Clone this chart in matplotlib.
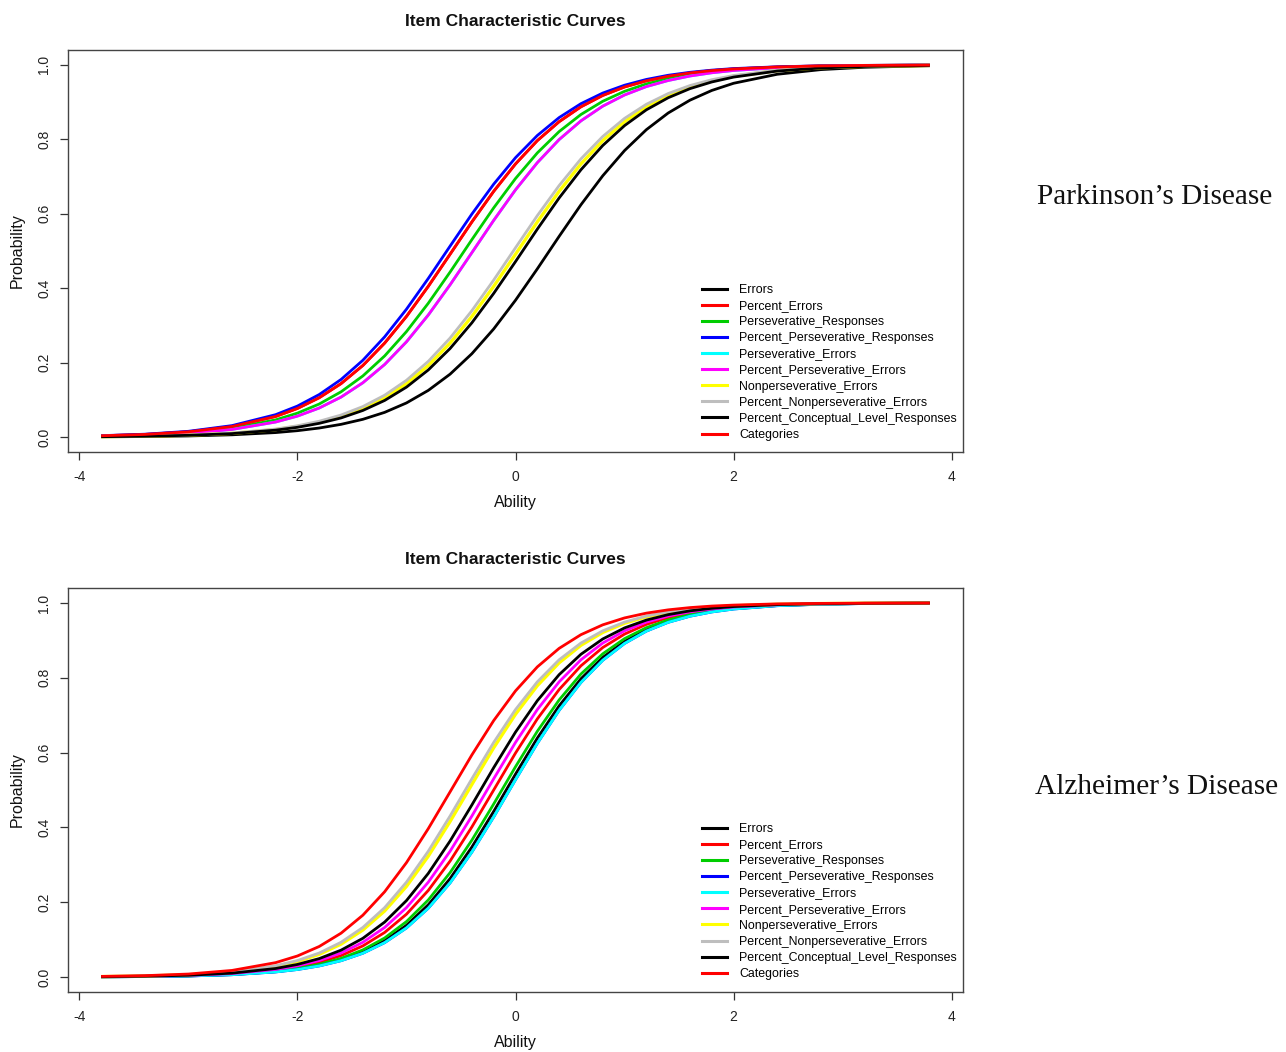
import matplotlib
matplotlib.use("Agg")
import matplotlib.pyplot as plt
from matplotlib.lines import Line2D

plt.rcParams['font.family'] = ['Liberation Sans', 'DejaVu Sans']

# Ability grid (x values shared by all curves)
theta = [-3.8, -3.4, -3.0, -2.6, -2.2, -2.0, -1.8, -1.6, -1.4, -1.2, -1.0, -0.8, -0.6, -0.4, -0.2,
         0.0, 0.2, 0.4, 0.6, 0.8, 1.0, 1.2, 1.4, 1.6, 1.8, 2.0, 2.4, 2.8, 3.2, 3.8]

item_labels = ["Errors", "Percent_Errors", "Perseverative_Responses",
               "Percent_Perseverative_Responses", "Perseverative_Errors",
               "Percent_Perseverative_Errors", "Nonperseverative_Errors",
               "Percent_Nonperseverative_Errors", "Percent_Conceptual_Level_Responses",
               "Categories"]
item_colors = ["#000000", "#FF0000", "#00CD00", "#0000FF", "#00FFFF",
               "#FF00FF", "#FFFF00", "#BEBEBE", "#000000", "#FF0000"]

# ---- Parkinson's Disease: probability per ability point
pd_errors = [0.0008, 0.0015, 0.0031, 0.0062, 0.0122, 0.0173, 0.0244, 0.0343, 0.0478, 0.0665, 0.0918, 0.1255, 0.1691, 0.2241, 0.2906,
             0.3677, 0.4520, 0.5393, 0.6242, 0.7020, 0.7698, 0.8259, 0.8707, 0.9052, 0.9313, 0.9506, 0.9748, 0.9873, 0.9936, 0.9977]
pd_percent_errors = [0.0036, 0.0072, 0.0143, 0.0285, 0.0555, 0.0770, 0.1058, 0.1437, 0.1924, 0.2526, 0.3242, 0.4050, 0.4913, 0.5781, 0.6603,
                     0.7339, 0.7965, 0.8474, 0.8874, 0.9179, 0.9407, 0.9573, 0.9695, 0.9784, 0.9847, 0.9891, 0.9944, 0.9973, 0.9986, 0.9995]
pd_persev_resp = [0.0030, 0.0060, 0.0118, 0.0236, 0.0463, 0.0644, 0.0889, 0.1217, 0.1643, 0.2181, 0.2835, 0.3596, 0.4434, 0.5306, 0.6159,
                  0.6947, 0.7635, 0.8208, 0.8667, 0.9022, 0.9290, 0.9489, 0.9633, 0.9739, 0.9815, 0.9869, 0.9934, 0.9966, 0.9984, 0.9994]
pd_pct_persev_resp = [0.0039, 0.0078, 0.0156, 0.0309, 0.0603, 0.0834, 0.1144, 0.1548, 0.2064, 0.2694, 0.3436, 0.4262, 0.5131, 0.5993, 0.6796,
                      0.7507, 0.8103, 0.8584, 0.8958, 0.9243, 0.9454, 0.9609, 0.9721, 0.9801, 0.9859, 0.9901, 0.9949, 0.9975, 0.9987, 0.9996]
pd_persev_err = [0.0026, 0.0053, 0.0103, 0.0206, 0.0405, 0.0564, 0.0782, 0.1075, 0.1460, 0.1951, 0.2560, 0.3280, 0.4092, 0.4956, 0.5823,
                 0.6643, 0.7373, 0.7993, 0.8496, 0.8891, 0.9192, 0.9417, 0.9580, 0.9701, 0.9788, 0.9850, 0.9925, 0.9962, 0.9981, 0.9993]
pd_pct_persev_err = [0.0026, 0.0053, 0.0103, 0.0206, 0.0405, 0.0564, 0.0782, 0.1075, 0.1460, 0.1951, 0.2560, 0.3280, 0.4092, 0.4956, 0.5823,
                     0.6643, 0.7373, 0.7993, 0.8496, 0.8891, 0.9192, 0.9417, 0.9580, 0.9701, 0.9788, 0.9850, 0.9925, 0.9962, 0.9981, 0.9993]
pd_nonpersev_err = [0.0013, 0.0025, 0.0052, 0.0101, 0.0202, 0.0285, 0.0398, 0.0555, 0.0770, 0.1058, 0.1437, 0.1924, 0.2526, 0.3242, 0.4050,
                    0.4913, 0.5781, 0.6603, 0.7339, 0.7965, 0.8474, 0.8874, 0.9179, 0.9407, 0.9573, 0.9695, 0.9847, 0.9923, 0.9961, 0.9986]
pd_pct_nonpersev_err = [0.0014, 0.0027, 0.0056, 0.0109, 0.0216, 0.0305, 0.0427, 0.0593, 0.0821, 0.1126, 0.1526, 0.2035, 0.2661, 0.3397, 0.4219,
                        0.5087, 0.5950, 0.6758, 0.7474, 0.8076, 0.8563, 0.8942, 0.9230, 0.9445, 0.9602, 0.9715, 0.9857, 0.9928, 0.9964, 0.9987]
pd_pclr = [0.0012, 0.0023, 0.0048, 0.0094, 0.0187, 0.0263, 0.0370, 0.0515, 0.0716, 0.0985, 0.1343, 0.1804, 0.2380, 0.3071, 0.3861,
           0.4715, 0.5587, 0.6424, 0.7182, 0.7834, 0.8369, 0.8793, 0.9117, 0.9362, 0.9541, 0.9672, 0.9834, 0.9917, 0.9959, 0.9985]
pd_categories = [0.0036, 0.0072, 0.0143, 0.0285, 0.0555, 0.0770, 0.1058, 0.1437, 0.1924, 0.2526, 0.3242, 0.4050, 0.4913, 0.5781, 0.6603,
                 0.7339, 0.7965, 0.8474, 0.8874, 0.9179, 0.9407, 0.9573, 0.9695, 0.9784, 0.9847, 0.9891, 0.9944, 0.9973, 0.9986, 0.9995]

# ---- Alzheimer's Disease
ad_errors = [0.0006, 0.0013, 0.0030, 0.0065, 0.0144, 0.0213, 0.0314, 0.0462, 0.0673, 0.0972, 0.1383, 0.1932, 0.2632, 0.3476, 0.4428,
             0.5424, 0.6387, 0.7250, 0.7973, 0.8544, 0.8974, 0.9288, 0.9512, 0.9667, 0.9774, 0.9848, 0.9931, 0.9968, 0.9986, 0.9996]
ad_percent_errors = [0.0008, 0.0017, 0.0037, 0.0082, 0.0180, 0.0266, 0.0392, 0.0573, 0.0832, 0.1192, 0.1680, 0.2315, 0.3100, 0.4013, 0.5000,
                     0.5987, 0.6900, 0.7685, 0.8320, 0.8808, 0.9168, 0.9427, 0.9608, 0.9734, 0.9820, 0.9879, 0.9944, 0.9975, 0.9989, 0.9997]
ad_persev_resp = [0.0007, 0.0014, 0.0033, 0.0071, 0.0156, 0.0231, 0.0340, 0.0498, 0.0725, 0.1044, 0.1482, 0.2060, 0.2790, 0.3659, 0.4626,
                  0.5621, 0.6569, 0.7407, 0.8099, 0.8640, 0.9046, 0.9339, 0.9546, 0.9691, 0.9791, 0.9859, 0.9936, 0.9971, 0.9987, 0.9996]
ad_pct_persev_resp = [0.0006, 0.0013, 0.0028, 0.0062, 0.0136, 0.0201, 0.0297, 0.0437, 0.0636, 0.0920, 0.1313, 0.1840, 0.2517, 0.3341, 0.4280,
                      0.5275, 0.6248, 0.7130, 0.7875, 0.8468, 0.8918, 0.9248, 0.9483, 0.9646, 0.9760, 0.9838, 0.9927, 0.9966, 0.9985, 0.9995]
ad_persev_err = [0.0006, 0.0013, 0.0028, 0.0062, 0.0136, 0.0201, 0.0297, 0.0437, 0.0636, 0.0920, 0.1313, 0.1840, 0.2517, 0.3341, 0.4280,
                 0.5275, 0.6248, 0.7130, 0.7875, 0.8468, 0.8918, 0.9248, 0.9483, 0.9646, 0.9760, 0.9838, 0.9927, 0.9966, 0.9985, 0.9995]
ad_pct_persev_err = [0.0009, 0.0019, 0.0042, 0.0092, 0.0203, 0.0300, 0.0441, 0.0642, 0.0929, 0.1325, 0.1855, 0.2536, 0.3363, 0.4305, 0.5300,
                     0.6271, 0.7150, 0.7891, 0.8481, 0.8928, 0.9255, 0.9488, 0.9650, 0.9762, 0.9839, 0.9892, 0.9950, 0.9978, 0.9990, 0.9997]
ad_nonpersev_err = [0.0012, 0.0027, 0.0060, 0.0129, 0.0283, 0.0417, 0.0607, 0.0880, 0.1257, 0.1767, 0.2424, 0.3231, 0.4159, 0.5150, 0.6130,
                    0.7026, 0.7789, 0.8401, 0.8869, 0.9212, 0.9458, 0.9629, 0.9748, 0.9830, 0.9885, 0.9923, 0.9964, 0.9984, 0.9993, 0.9998]
ad_pct_nonpersev_err = [0.0013, 0.0029, 0.0063, 0.0137, 0.0300, 0.0441, 0.0642, 0.0929, 0.1325, 0.1855, 0.2536, 0.3363, 0.4305, 0.5300, 0.6271,
                        0.7150, 0.7891, 0.8481, 0.8928, 0.9255, 0.9488, 0.9650, 0.9762, 0.9839, 0.9892, 0.9927, 0.9966, 0.9985, 0.9993, 0.9998]
ad_pclr = [0.0010, 0.0022, 0.0048, 0.0104, 0.0228, 0.0337, 0.0493, 0.0718, 0.1035, 0.1469, 0.2044, 0.2770, 0.3636, 0.4601, 0.5597,
           0.6547, 0.7387, 0.8083, 0.8628, 0.9037, 0.9333, 0.9542, 0.9688, 0.9789, 0.9858, 0.9904, 0.9956, 0.9980, 0.9991, 0.9997]
ad_categories = [0.0017, 0.0037, 0.0080, 0.0177, 0.0385, 0.0563, 0.0817, 0.1172, 0.1653, 0.2280, 0.3058, 0.3966, 0.4950, 0.5938, 0.6856,
                 0.7649, 0.8291, 0.8786, 0.9152, 0.9415, 0.9600, 0.9728, 0.9816, 0.9876, 0.9917, 0.9943, 0.9975, 0.9988, 0.9995, 0.9998]

pd_curves = [pd_errors, pd_percent_errors, pd_persev_resp, pd_pct_persev_resp, pd_persev_err,
             pd_pct_persev_err, pd_nonpersev_err, pd_pct_nonpersev_err, pd_pclr, pd_categories]
ad_curves = [ad_errors, ad_percent_errors, ad_persev_resp, ad_pct_persev_resp, ad_persev_err,
             ad_pct_persev_err, ad_nonpersev_err, ad_pct_nonpersev_err, ad_pclr, ad_categories]

W, H = 1286, 1052
fig = plt.figure(figsize=(W / 100, H / 100), dpi=100)

def make_axes(top_px, bottom_px):
    left, right = 68, 963
    return fig.add_axes([left / W, 1 - bottom_px / H, (right - left) / W, (bottom_px - top_px) / H])

panels = [
    (make_axes(50, 452), pd_curves),
    (make_axes(588, 992), ad_curves),
]

for ax, curves in panels:
    for vals, col in zip(curves, item_colors):
        lw = 2.4 if col == "#FFFF00" else 2.0
        ax.plot(theta, vals, color=col, lw=lw, solid_capstyle='butt', solid_joinstyle='round')
    ax.set_xlim(-4.104, 4.104)
    ax.set_ylim(-0.04, 1.04)
    ax.set_xticks([-4, -2, 0, 2, 4])
    ax.set_xticklabels(["-4", "-2", "0", "2", "4"])
    ax.set_yticks([0.0, 0.2, 0.4, 0.6, 0.8, 1.0])
    ax.set_yticklabels(["0.0", "0.2", "0.4", "0.6", "0.8", "1.0"])
    for lab in ax.get_yticklabels():
        lab.set_rotation(90)
        lab.set_va('center')
    ax.tick_params(direction='out', length=6, width=0.9, color='#333333',
                   labelsize=10, labelcolor='#222222')
    ax.tick_params(axis='x', pad=7)
    ax.tick_params(axis='y', pad=6)
    for s in ax.spines.values():
        s.set_color('#444444')
        s.set_linewidth(1.0)
    h = ax.get_position().height * H
    ax.text(0.5, 1 + 29 / h, "Item Characteristic Curves", transform=ax.transAxes,
            ha='center', va='center', fontsize=12.5, fontweight='bold', color='#111111')
    ax.set_xlabel("Ability", fontsize=11.5, color='#111111')
    ax.xaxis.set_label_coords(0.5, -50 / h)
    ax.xaxis.label.set_va('center')
    ax.set_ylabel("Probability", fontsize=11.5, color='#111111')
    ax.yaxis.set_label_coords(-51 / 895, 0.5)
    ax.yaxis.label.set_va('center')

    handles = [Line2D([0], [0], color=c, lw=2.2) for c in item_colors]
    ax.legend(handles, item_labels, loc='upper left',
              bbox_to_anchor=((702 - 68) / 895, 1 - (284 - 50) / 402),
              frameon=False, fontsize=8.95, handlelength=2.0, handletextpad=1.0,
              labelspacing=0.33, borderpad=0.0, borderaxespad=0.0)

fig.text(1155 / W, 1 - 197 / H, "Parkinson\u2019s Disease", ha='center', va='center',
         fontsize=21.2, family=['Liberation Serif', 'DejaVu Serif'], color='#111111')
fig.text(1157 / W, 1 - 787 / H, "Alzheimer\u2019s Disease", ha='center', va='center',
         fontsize=21.2, family=['Liberation Serif', 'DejaVu Serif'], color='#111111')

fig.savefig("out.png", dpi=100, facecolor='white')
